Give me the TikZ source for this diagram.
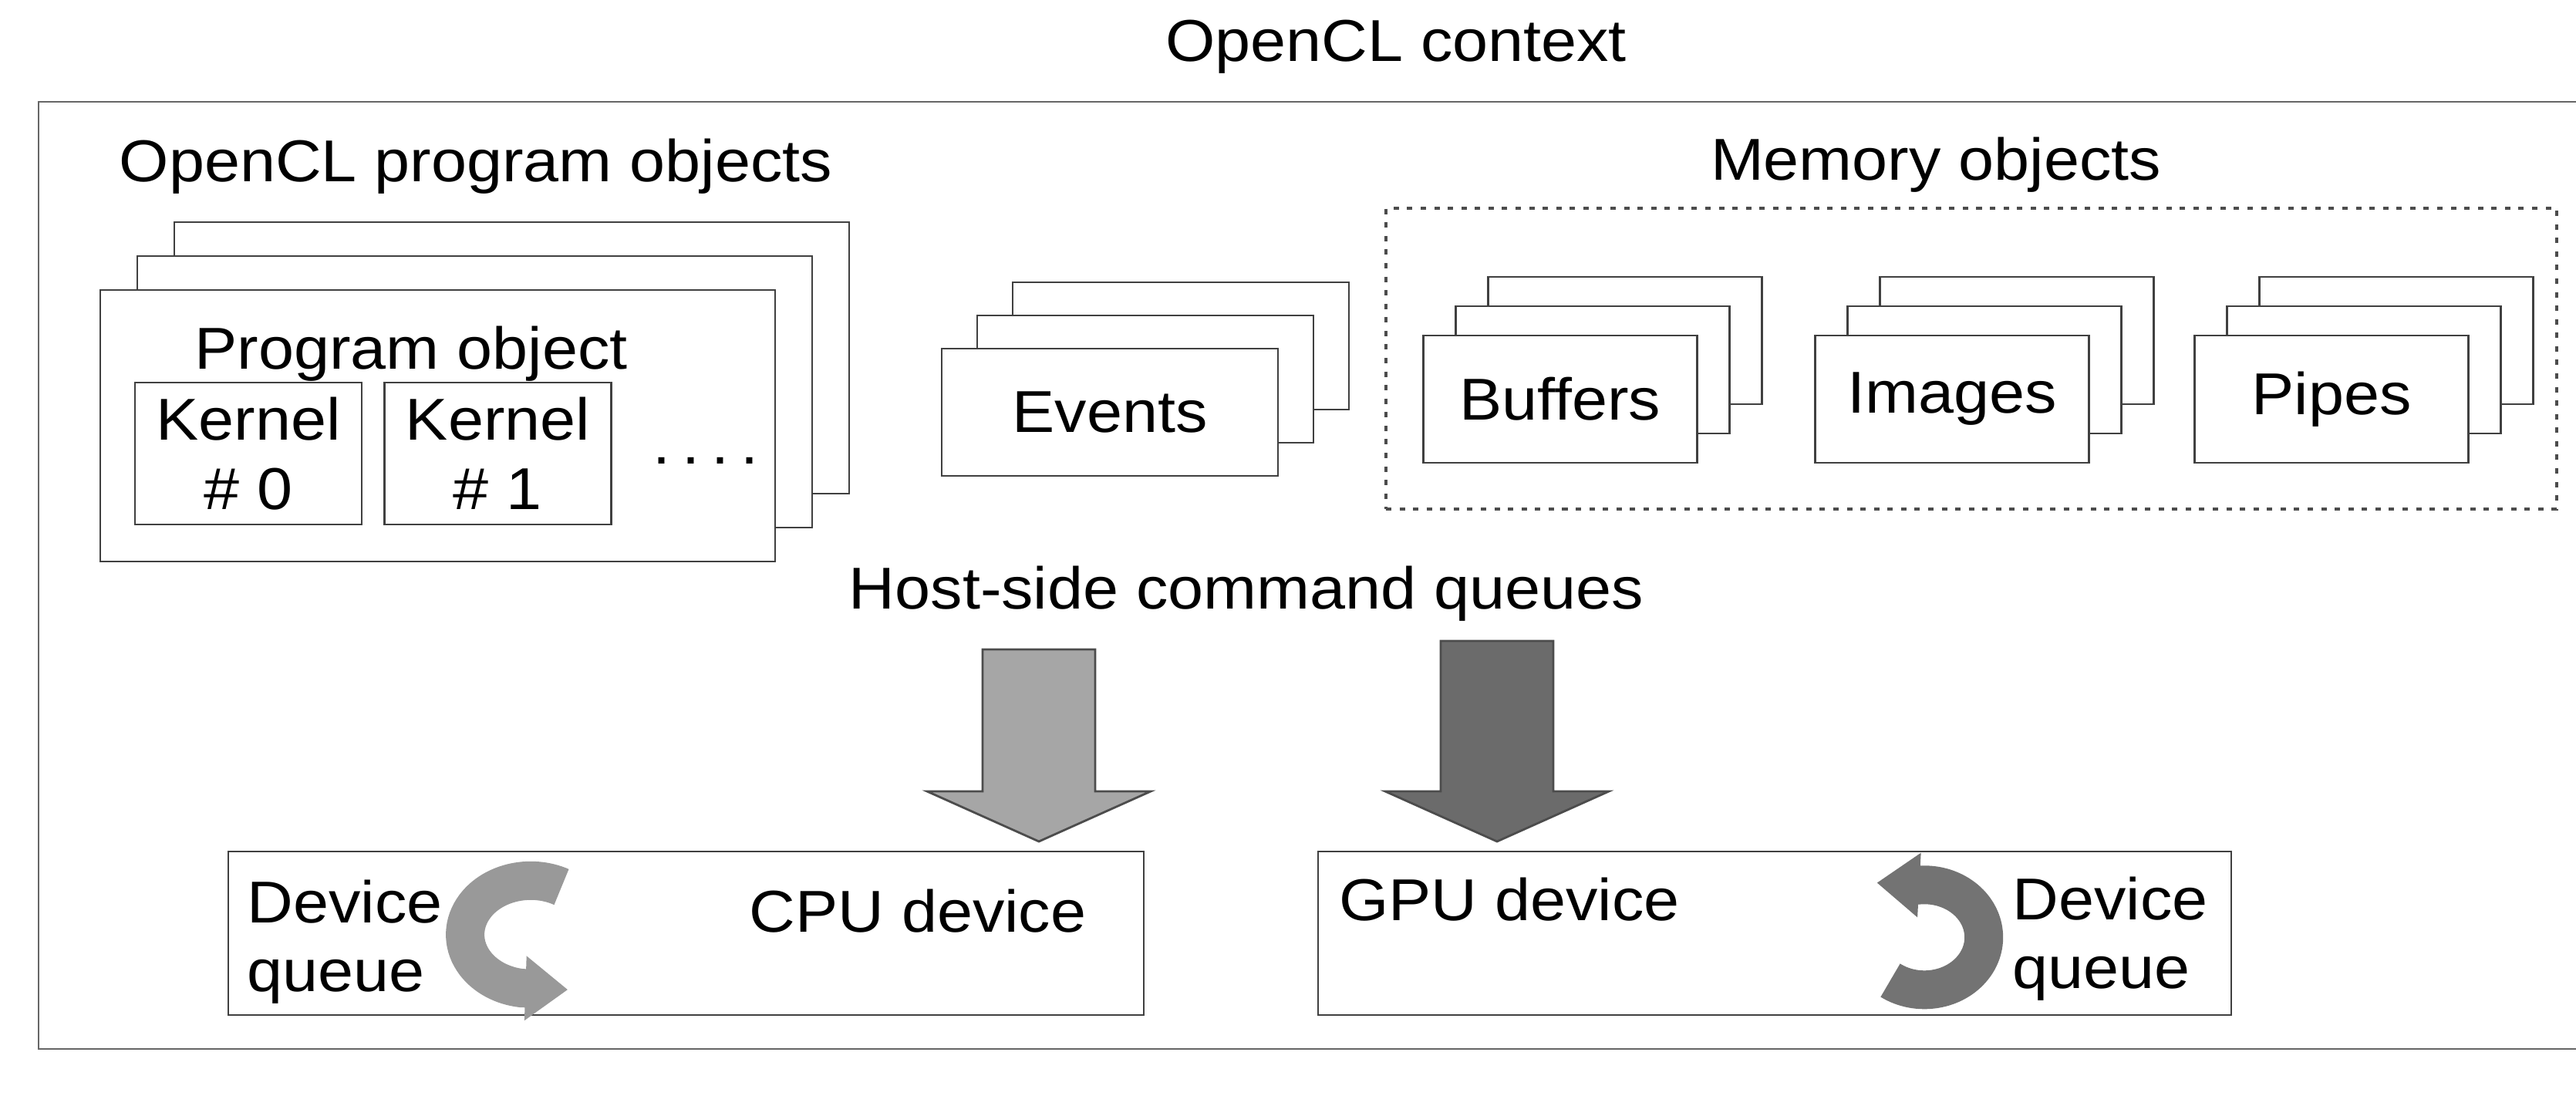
\documentclass[tikz,border=0pt]{standalone}
\usepackage{fontspec}
\setmainfont{Liberation Sans}[FakeStretch=1.08]
\usepackage{tikz}
\usetikzlibrary{arrows.meta}

\begin{document}
\begin{tikzpicture}[
        font=\fontsize{21.8}{25.5}\selectfont,
        lbl/.style={inner sep=0},
        sheet/.style={draw=black!75, line width=0.8pt, fill=white, inner sep=0},
        ctxframe/.style={draw=black!60, line width=0.8pt},
        memframe/.style={draw=black!70, line width=0.9pt, dash pattern=on 2pt off 3pt},
        blockarrow/.style={draw=black!70, line width=0.8pt},
        looparrow/.style={line width=0.5cm, -{Triangle[length=0.55cm, width=0.8cm]}}
    ]
    \useasboundingbox (0,0) rectangle (33.4,14.2);
    \node[ctxframe, minimum width=33.1cm, minimum height=12.28cm] (ctx) at (17.05, 6.74) {};
    \node[lbl, anchor=base] (title) at (18.10, 13.40) {OpenCL context};

    \node[lbl, anchor=base west] (proglbl) at (1.54, 11.84) {OpenCL program objects};
    \foreach \k in {2,1,0}
        \node[sheet, minimum width=8.75cm, minimum height=3.52cm] (prog\k) at (5.675+0.48*\k, 8.68+0.44*\k) {};
    \node[lbl, anchor=base] (pobj) at (5.33, 9.41) {Program object};
    \foreach \x[count=\i from 0] in {3.22, 6.455}
        \node[sheet, minimum width=2.94cm, minimum height=1.84cm, align=center] (kern\i) at (\x, 8.32) {Kernel\\\# \i};
    \node[lbl, anchor=base] (dots) at (9.15, 8.18) {.\kern0.2em.\kern0.2em.\kern0.2em.};

    \foreach \k in {2,1,0}
        \node[sheet, minimum width=4.36cm, minimum height=1.65cm] (ev\k) at (14.39+0.46*\k, 8.855+0.43*\k) {\ifnum\k=0 Events\fi};

    \node[lbl, anchor=base] (memlbl) at (25.10, 11.86) {Memory objects};
    \node[memframe, minimum width=15.18cm, minimum height=3.9cm] (mem) at (25.56, 9.55) {};
    \foreach \name/\x in {Buffers/20.23, Images/25.31, Pipes/30.23} {
        \foreach \k in {2,1,0}
            \node[sheet, minimum width=3.55cm, minimum height=1.65cm] (\name\k) at (\x+0.42*\k, 9.025+0.38*\k) {\ifnum\k=0 \name\fi};
    }

    \node[lbl, anchor=base] (hostlbl) at (16.16, 6.30) {Host-side command queues};
    \foreach \x/\t/\g in {13.47/5.78/35, 19.41/5.89/58}
        \draw[blockarrow, fill=black!\g] (\x-0.73,\t) -- (\x+0.73,\t) -- (\x+0.73,3.94) -- (\x+1.45,3.94)
            -- (\x,3.29) -- (\x-1.45,3.94) -- (\x-0.73,3.94) -- cycle;

    \node[sheet, minimum width=11.87cm, minimum height=2.12cm] (cpu) at (8.895, 2.10) {};
    \node[lbl, anchor=base] (cpulbl) at (11.90, 2.11) {CPU device};
    \node[lbl, align=left, anchor=west] (cpuq) at (3.20, 1.99) {Device\\queue};
    \draw[looparrow, draw=black!40] (7.28,2.70) arc[start angle=62, end angle=262, x radius=0.85, y radius=0.7] -- ++(0.6,-0.02);

    \node[sheet, minimum width=11.84cm, minimum height=2.12cm] (gpu) at (23.01, 2.10) {};
    \node[lbl, anchor=base] (gpulbl) at (19.57, 2.26) {GPU device};
    \node[lbl, align=left, anchor=west] (gpuq) at (26.09, 2.03) {Device\\queue};
    \draw[looparrow, draw=black!55] (24.51,1.49) arc[start angle=-125, end angle=95, x radius=0.77, y radius=0.68] -- ++(-0.55,0.03);
\end{tikzpicture}
\end{document}
